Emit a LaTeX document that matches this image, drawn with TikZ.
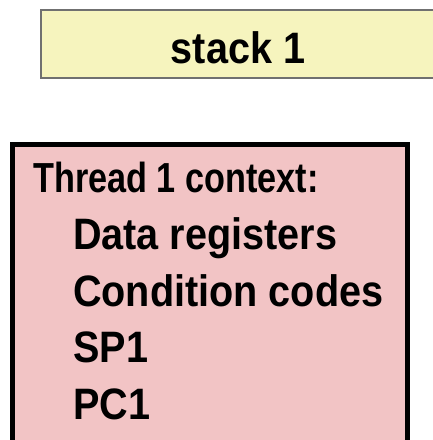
\documentclass[tikz,border=0pt]{standalone}
\usepackage{fontspec}
\setmainfont{Liberation Sans}[FakeStretch=0.9]
\newfontfamily\titlefont{Liberation Sans}[FakeStretch=0.815]
\definecolor{stackyellow}{HTML}{F6F4BE}
\definecolor{ctxpink}{HTML}{F2C4C5}
\definecolor{stackgrey}{HTML}{707070}
\newcommand{\bigtxt}{\fontsize{44}{53}\selectfont\bfseries}
\newcommand{\titletxt}{\titlefont\fontsize{42}{53}\selectfont\bfseries}
\tikzset{
  txt/.style={inner sep=0pt, font=\bigtxt},
  line/.style={txt, anchor=base west}
}
\begin{document}
\begin{tikzpicture}[x=1pt,y=-1pt]
      \useasboundingbox (0,0) rectangle (433,440);
      \clip (0,0) rectangle (433,440);
      % stack area
      \node[draw=stackgrey, line width=2pt, fill=stackyellow, minimum width=396pt, minimum height=68pt, inner sep=0pt] (stack) at (239,44) {};
      \node[txt, anchor=base] (stacklbl) at (238,63) {stack 1};
      % thread context
      \node[draw=black, line width=4.5pt, fill=ctxpink, minimum width=395pt, minimum height=320pt, inner sep=0pt, anchor=north west] (ctx) at (10,142) {};
      \node[line, font=\titletxt] (title) at (33,192) {Thread 1 context:};
      \node[line] (data) at (73,249) {Data registers};
      \node[line] (cond) at (73,306) {Condition codes};
      \node[line] (sp) at (73,362) {SP1};
      \node[line] (pc) at (73,419) {PC1};
    \end{tikzpicture}
\end{document}
